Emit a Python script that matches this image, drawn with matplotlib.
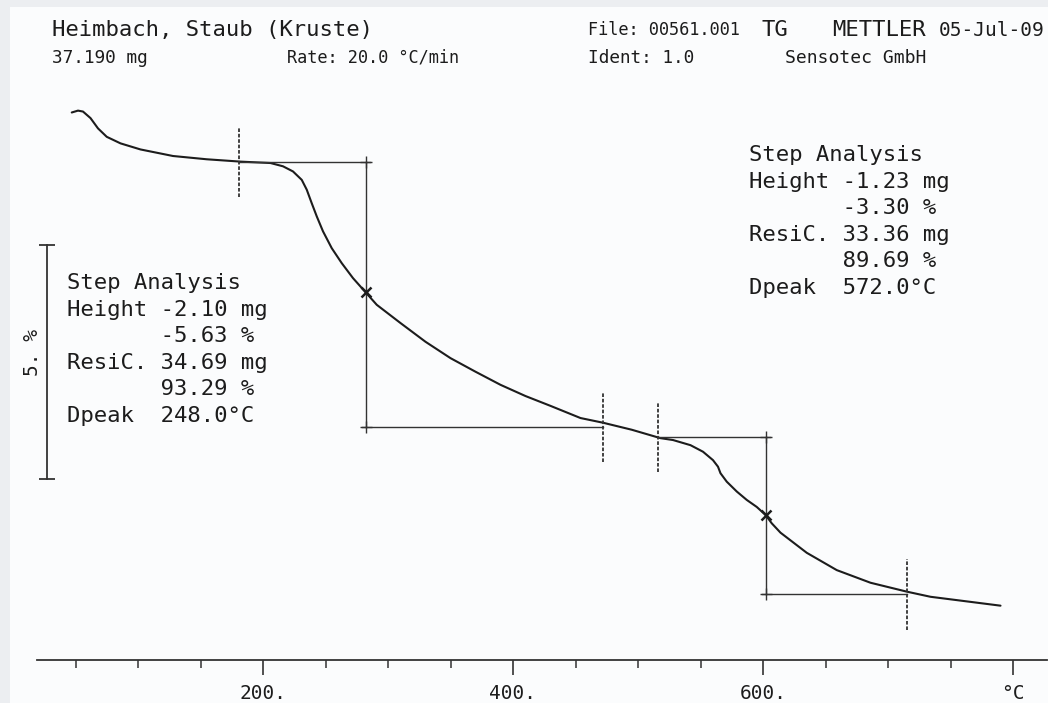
import matplotlib
matplotlib.use("Agg")
import matplotlib.pyplot as plt
from matplotlib.patches import Rectangle

# TG curve (temperature in C, mass in % of start)
temp_c = [47, 52, 56, 62, 68, 75, 86, 102, 128, 155, 182, 190, 206, 216, 224,
          231, 235, 239, 243, 248, 255, 263, 272, 282, 291, 310, 330, 350, 370,
          390, 410, 430, 454, 472, 495, 518, 528, 542, 552, 560, 564, 566, 571,
          579, 587, 595, 602, 607, 614, 635, 659, 686, 715, 734, 790]
mass_pct = [100.01, 100.05, 100.03, 99.89, 99.67, 99.49, 99.35, 99.22, 99.08,
            99.01, 98.96, 98.95, 98.93, 98.86, 98.75, 98.57, 98.36, 98.07, 97.79,
            97.47, 97.11, 96.79, 96.47, 96.17, 95.90, 95.51, 95.11, 94.76, 94.47,
            94.19, 93.95, 93.74, 93.48, 93.38, 93.23, 93.05, 93.01, 92.90, 92.76,
            92.58, 92.44, 92.30, 92.12, 91.91, 91.73, 91.58, 91.41, 91.23, 91.03,
            90.60, 90.23, 89.96, 89.77, 89.66, 89.47]

# step analysis limits: start, inflection, end temperature; upper / lower level
step_start = [181, 516]
step_mid = [282.4, 602.4]
step_end = [472, 715]
step_upper = [98.95, 93.07]
step_lower = [93.29, 89.71]
step_text = [
    ["Step Analysis", "Height -2.10 mg", "       -5.63 %", "ResiC. 34.69 mg",
     "       93.29 %", "Dpeak  248.0°C"],
    ["Step Analysis", "Height -1.23 mg", "       -3.30 %", "ResiC. 33.36 mg",
     "       89.69 %", "Dpeak  572.0°C"],
]

major_ticks = [200, 400, 600, 800]
major_labels = ["200.", "400.", "600.", "°C"]
minor_ticks = [50, 100, 150, 250, 300, 350, 450, 500, 550, 650, 700, 750]

scale_bar = [92.18, 97.18]   # 5 % bar
axis_level = 88.31

W, H = 1048, 703
mono = "DejaVu Sans Mono"
ink = "#1c1c1c"

fig = plt.figure(figsize=(W / 100, H / 100), dpi=100, facecolor="#eceef1")
fig.patches.append(Rectangle((10 / W, 0), 1, 1 - 7 / H, transform=fig.transFigure,
                             facecolor="#fbfcfd", edgecolor="none", zorder=-5))
ax = fig.add_axes([0, 0, 1, 1])
ax.patch.set_visible(False)
ax.set_xlim(-10.4, 828)
ax.set_ylim(87.39, 102.414)

# curve
ax.plot(temp_c, mass_pct, color=ink, lw=1.5, solid_capstyle="round",
        solid_joinstyle="round")

# step construction lines
for i in range(2):
    t0, tm, t1 = step_start[i], step_mid[i], step_end[i]
    up, lo = step_upper[i], step_lower[i]
    ax.plot([t0, tm + 3], [up, up], color="#333", lw=1.0)
    ax.plot([tm, tm], [up, lo], color="#333", lw=1.0)
    ax.plot([tm - 3, t1], [lo, lo], color="#333", lw=1.0)
    ax.plot([tm, tm], [up, lo], ls="none", marker="+", ms=9, mew=1.0, color="#333")
    ax.plot([t0, t0], [up - 0.75, up + 0.75], color="#333", lw=1.3, ls=(0, (2, 1)))
    ax.plot([t1, t1], [lo - 0.75, lo + 0.75], color="#333", lw=1.3, ls=(0, (2, 1)))
    ci = temp_c.index(min(temp_c, key=lambda t: abs(t - tm)))
    ax.plot(tm, mass_pct[ci], marker="x", ms=7, mew=1.8, color=ink)

# bottom temperature axis
for s in ["top", "right"]:
    ax.spines[s].set_visible(False)
ax.spines["bottom"].set_position(("data", axis_level))
ax.spines["bottom"].set_bounds(19, 827)
ax.spines["bottom"].set_linewidth(1.3)
ax.spines["bottom"].set_color("#333")
ax.set_xticks(major_ticks)
ax.set_xticklabels(major_labels, family=mono, fontsize=14, color=ink)
ax.set_xticks(minor_ticks, minor=True)
ax.tick_params(axis="x", which="major", direction="out", length=11, width=1.2,
               pad=6, color="#333")
ax.tick_params(axis="x", which="minor", direction="out", length=6, width=1.1,
               color="#333")

# 5 % scale bar on the left
ax.spines["left"].set_position(("data", 27.2))
ax.spines["left"].set_bounds(*scale_bar)
ax.spines["left"].set_linewidth(1.3)
ax.spines["left"].set_color("#333")
ax.set_yticks(scale_bar)
ax.set_yticklabels(["", ""])
ax.tick_params(axis="y", direction="inout", length=11, width=1.3, color="#333")
ax.set_ylabel("5. %", family=mono, fontsize=14, color=ink, rotation=90, va="center")
ax.yaxis.set_label_coords(32 / W, 1 - 353 / H)

# step analysis boxes
for (x0, y0), lines in zip([(67, 283), (749, 155)], step_text):
    for k, line in enumerate(lines):
        fig.text(x0 / W, 1 - (y0 + k * 26.6) / H, line, family=mono, fontsize=16,
                 color=ink, va="center", ha="left")

# header
header = [
    (52, 30, "Heimbach, Staub (Kruste)", 16),
    (52, 58, "37.190 mg", 12.8),
    (287, 58, "Rate: 20.0 °C/min", 12.2),
    (588, 30, "File: 00561.001", 12.2),
    (762, 30, "TG", 16),
    (832, 30, "METTLER", 16),
    (939, 30, "05-Jul-09", 14),
    (588, 58, "Ident: 1.0", 12.8),
    (785, 58, "Sensotec GmbH", 13),
]
for x0, y0, s, fs in header:
    fig.text(x0 / W, 1 - y0 / H, s, family=mono, fontsize=fs, color=ink,
             va="center", ha="left")

fig.savefig("out.png", dpi=100, facecolor=fig.get_facecolor())
